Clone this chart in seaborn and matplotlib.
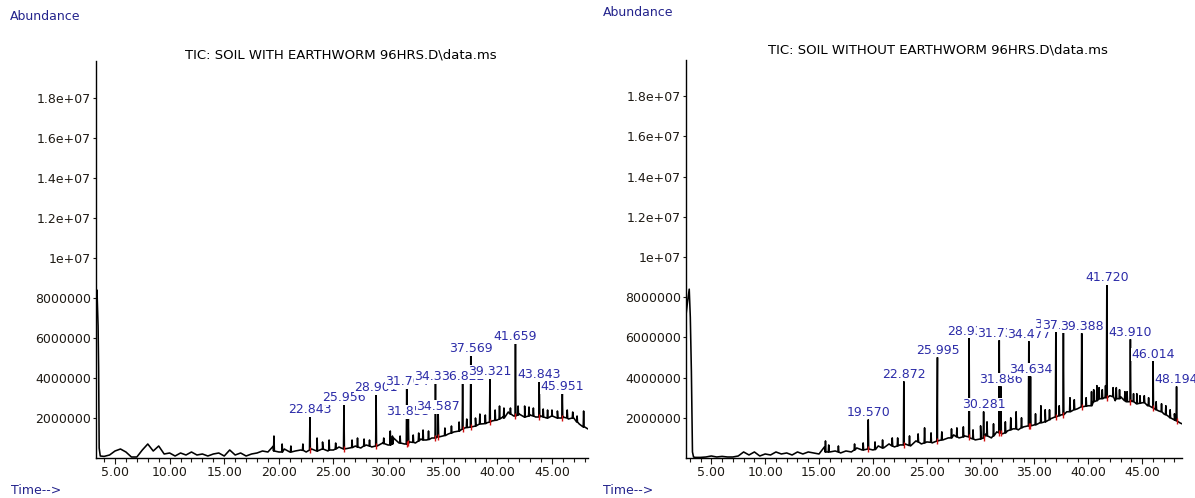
import matplotlib
matplotlib.use("Agg")
import matplotlib.pyplot as plt
import seaborn as sns
import pandas as pd
from matplotlib.ticker import FixedLocator, FixedFormatter, FormatStrFormatter, MultipleLocator

sns.set_style("white")
plt.rcParams["font.family"] = ["DejaVu Sans"]

# ---------------- data (abundance in units of 1e6) ----------------
titles = ["TIC: SOIL WITH EARTHWORM 96HRS.D\\data.ms",
          "TIC: SOIL WITHOUT EARTHWORM 96HRS.D\\data.ms"]

ytick_values = [2e6, 4e6, 6e6, 8e6, 1e7, 1.2e7, 1.4e7, 1.6e7, 1.8e7]
ytick_labels = ["2000000", "4000000", "6000000", "8000000", "1e+07",
                "1.2e+07", "1.4e+07", "1.6e+07", "1.8e+07"]
xtick_values = [5, 10, 15, 20, 25, 30, 35, 40, 45]

# baseline samples, soil WITH earthworm
base_t_L = [3.26, 3.35, 3.45, 3.5, 3.55, 3.65,
            4.0, 4.5, 5.0, 5.5, 6.0, 6.5, 7.0, 7.5, 8.0, 8.5, 9.0, 9.5, 10.0, 10.5,
            11.0, 11.5, 12.0, 12.5, 13.0, 13.5, 14.0, 14.5, 15.0, 15.5, 16.0, 16.5,
            17.0, 17.5, 18.0, 18.5, 19.0, 19.5, 20.0, 20.5, 21.0, 21.5, 22.0, 22.5,
            23.0, 23.5, 24.0, 24.5, 25.0, 25.5, 26.0, 26.5, 27.0, 27.5, 28.0, 28.5,
            29.0, 29.5, 30.0, 30.5, 31.0, 31.5, 32.0, 32.5, 33.0, 33.5, 34.0, 34.5,
            35.0, 35.5, 36.0, 36.5, 37.0, 37.5, 38.0, 38.5, 39.0, 39.5, 40.0, 40.5,
            41.0, 41.5, 42.0, 42.5, 43.0, 43.5, 44.0, 44.5, 45.0, 45.5, 46.0, 46.5,
            47.0, 47.5, 48.0, 48.3]
base_v_L = [7.4, 8.4, 6.6, 4.5, 0.5, 0.1,
            0.08, 0.15, 0.35, 0.45, 0.3, 0.05, 0.05, 0.4, 0.7, 0.35, 0.6, 0.2, 0.25, 0.1,
            0.25, 0.15, 0.3, 0.15, 0.2, 0.1, 0.2, 0.25, 0.1, 0.4, 0.15, 0.25,
            0.1, 0.2, 0.25, 0.35, 0.3, 0.6, 0.3, 0.45, 0.3, 0.35, 0.4, 0.3,
            0.45, 0.35, 0.5, 0.35, 0.4, 0.55, 0.45, 0.5, 0.6, 0.5, 0.65, 0.55,
            0.6, 0.75, 0.65, 1.0, 0.75, 0.7, 0.8, 0.75, 0.95, 0.9, 1.0, 1.05,
            1.1, 1.2, 1.3, 1.35, 1.5, 1.55, 1.6, 1.7, 1.75, 1.85, 1.9, 2.05,
            2.3, 2.1, 2.2, 2.05, 2.15, 2.05, 2.1, 2.0, 2.1, 2.0, 2.05, 1.95,
            2.0, 1.7, 1.55, 1.45]

# labelled peaks, soil WITH earthworm
peak_lab_L = ["22.843", "25.956", "28.901", "31.704", "31.853", "34.336", "34.587",
              "36.822", "37.569", "39.321", "41.659", "43.843", "45.951"]
peak_rt_L = [22.843, 25.956, 28.901, 31.704, 31.853, 34.336, 34.587,
             36.822, 37.569, 39.321, 41.659, 43.843, 45.951]
peak_top_L = [2.05, 2.65, 3.15, 3.45, 1.95, 3.7, 2.2, 3.7, 5.1, 3.95, 5.7, 3.8, 3.2]
peak_base_L = [0.4, 0.45, 0.6, 0.7, 0.75, 1.0, 1.05, 1.45, 1.55, 1.8, 2.1, 2.05, 2.0]

# small unlabelled peaks / noise spikes, soil WITH earthworm
minor_rt_L = [19.55, 20.3, 21.1, 22.2, 23.5, 24.0, 24.6, 25.2, 26.7, 27.2, 27.8,
              28.3, 29.6, 30.2, 30.4, 31.1, 32.3, 32.8, 33.2, 33.7, 35.2, 35.8,
              36.5, 37.2, 38.0, 38.4, 38.9, 39.8, 40.2, 40.6, 41.2, 41.9, 42.5,
              42.9, 43.3, 44.2, 44.6, 45.0, 45.5, 46.4, 46.9, 47.3, 47.9]
minor_top_L = [1.1, 0.7, 0.6, 0.7, 1.0, 0.8, 0.9, 0.75, 0.9, 1.0, 0.95,
               0.9, 1.0, 1.35, 1.1, 1.1, 1.15, 1.25, 1.4, 1.35, 1.5, 1.6,
               1.8, 1.95, 2.0, 2.2, 2.15, 2.4, 2.6, 2.5, 2.5, 2.6, 2.6,
               2.55, 2.5, 2.45, 2.4, 2.4, 2.35, 2.4, 2.3, 2.1, 2.35]
minor_base_L = [0.35, 0.3, 0.3, 0.38, 0.35, 0.45, 0.4, 0.45, 0.52, 0.55, 0.6,
                0.6, 0.72, 0.65, 0.7, 0.75, 0.78, 0.85, 0.9, 0.92, 1.12, 1.25,
                1.35, 1.52, 1.6, 1.7, 1.72, 1.88, 1.95, 2.0, 2.2, 2.15, 2.05,
                2.1, 2.1, 2.05, 2.0, 2.1, 2.0, 2.0, 2.0, 1.8, 1.55]

# baseline samples, soil WITHOUT earthworm
base_t_R = [2.67, 2.8, 2.95, 3.05, 3.15, 3.25, 3.35,
            3.5, 4.0, 4.5, 5.0, 5.5, 6.0, 6.5, 7.0, 7.5, 8.0, 8.5, 9.0, 9.5, 10.0,
            10.5, 11.0, 11.5, 12.0, 12.5, 13.0, 13.5, 14.0, 14.5, 15.0, 15.5, 16.0,
            16.5, 17.0, 17.5, 18.0, 18.5, 19.0, 19.5, 20.0, 20.5, 21.0, 21.5, 22.0,
            22.5, 23.0, 23.5, 24.0, 24.5, 25.0, 25.5, 26.0, 26.5, 27.0, 27.5, 28.0,
            28.5, 29.0, 29.5, 30.0, 30.5, 31.0, 31.5, 32.0, 32.5, 33.0, 33.5, 34.0,
            34.5, 35.0, 35.5, 36.0, 36.5, 37.0, 37.5, 38.0, 38.5, 39.0, 39.5, 40.0,
            40.5, 41.0, 41.5, 42.0, 42.5, 43.0, 43.5, 44.0, 44.5, 45.0, 45.5, 46.0,
            46.5, 47.0, 47.5, 48.0, 48.5, 48.7]
base_v_R = [7.2, 7.8, 8.4, 7.0, 4.3, 0.3, 0.05,
            0.03, 0.03, 0.05, 0.1, 0.05, 0.08, 0.05, 0.05, 0.1, 0.3, 0.15, 0.3, 0.1, 0.2,
            0.15, 0.3, 0.2, 0.25, 0.15, 0.3, 0.2, 0.3, 0.25, 0.2, 0.55, 0.3,
            0.35, 0.25, 0.35, 0.3, 0.5, 0.4, 0.45, 0.4, 0.6, 0.5, 0.7, 0.55,
            0.65, 0.7, 0.6, 0.85, 0.7, 0.8, 0.75, 0.85, 0.9, 1.0, 1.15, 1.0,
            1.1, 1.0, 0.9, 0.95, 1.2, 1.0, 1.3, 1.2, 1.35, 1.45, 1.4, 1.55,
            1.6, 1.65, 1.75, 1.8, 1.95, 2.05, 2.15, 2.3, 2.35, 2.45, 2.55, 2.6,
            2.85, 2.95, 3.0, 3.1, 2.85, 3.05, 2.8, 2.85, 2.7, 2.75, 2.6, 2.5,
            2.35, 2.2, 2.05, 1.9, 1.75, 1.7]

# labelled peaks, soil WITHOUT earthworm
peak_lab_R = ["19.570", "22.872", "25.995", "28.935", "30.281", "31.734", "31.886",
              "34.477", "34.634", "36.986", "37.689", "39.388", "41.720", "43.910",
              "46.014", "48.194"]
peak_rt_R = [19.570, 22.872, 25.995, 28.935, 30.281, 31.734, 31.886,
             34.477, 34.634, 36.986, 37.689, 39.388, 41.720, 43.910, 46.014, 48.194]
peak_top_R = [1.9, 3.8, 5.0, 5.95, 2.3, 5.85, 3.55, 5.8, 4.05, 6.3, 6.25, 6.2,
              8.6, 5.9, 4.8, 3.55]
peak_base_R = [0.45, 0.65, 0.85, 1.05, 1.0, 1.25, 1.25, 1.6, 1.6, 2.05, 2.15, 2.55,
               3.0, 2.8, 2.5, 1.85]

# small unlabelled peaks / noise spikes, soil WITHOUT earthworm
minor_rt_R = [15.6, 15.9, 16.8, 18.3, 19.1, 20.2, 20.9, 21.8, 22.3, 23.4, 24.2,
              24.8, 25.4, 26.4, 27.3, 27.8, 28.4, 29.3, 30.0, 30.6, 31.2, 32.3,
              32.8, 33.3, 33.8, 35.1, 35.6, 36.0, 36.4, 37.3, 38.3, 38.7, 39.8,
              40.3, 40.5, 40.8, 41.0, 41.3, 41.6, 42.3, 42.6, 42.9, 43.4, 43.6,
              44.2, 44.5, 44.8, 45.2, 45.6, 46.3, 46.8, 47.2, 47.6, 48.0]
minor_top_R = [0.85, 0.65, 0.6, 0.7, 0.75, 0.8, 0.9, 1.0, 1.0, 1.1, 1.2,
               1.5, 1.25, 1.3, 1.45, 1.5, 1.55, 1.4, 1.6, 1.8, 1.7, 1.8,
               2.0, 2.3, 2.0, 2.2, 2.6, 2.4, 2.4, 2.6, 3.0, 2.9, 3.0,
               3.3, 3.4, 3.6, 3.5, 3.4, 3.6, 3.5, 3.5, 3.4, 3.3, 3.3,
               3.2, 3.2, 3.1, 3.1, 3.0, 2.8, 2.7, 2.6, 2.4, 2.2]
minor_base_R = [0.3, 0.3, 0.3, 0.4, 0.4, 0.42, 0.5, 0.6, 0.6, 0.62, 0.8,
                0.75, 0.78, 0.9, 1.0, 1.05, 1.05, 0.95, 0.95, 1.1, 1.1, 1.25,
                1.4, 1.45, 1.5, 1.65, 1.75, 1.8, 1.9, 2.1, 2.3, 2.4, 2.58,
                2.6, 2.8, 2.85, 2.95, 2.95, 3.0, 3.05, 2.95, 2.95, 2.85, 2.8,
                2.8, 2.7, 2.72, 2.75, 2.6, 2.4, 2.3, 2.15, 2.0, 1.9]

# ---------------- styling ----------------
LABEL_BLUE = "#2c2ca8"
NAVY = "#23238c"
TICK_COL = "#1e1a14"
W, H = 1195, 498


def build_trace(bt, bv, prt, ptop, pbase, mrt, mtop, mbase):
    rows = list(zip(bt, bv))
    hw = 0.04
    for rt, top, b in list(zip(prt, ptop, pbase)) + list(zip(mrt, mtop, mbase)):
        rows += [(rt - hw, b), (rt, top), (rt + hw, b)]
    df = pd.DataFrame(rows, columns=["time", "abund"]).sort_values("time")
    df["abund"] = df["abund"] * 1e6
    return df


fig = plt.figure(figsize=(W / 100, H / 100), dpi=100)
axL = fig.add_axes([96 / W, 40 / H, 492 / W, 397 / H])
axR = fig.add_axes([686 / W, 40 / H, 496 / W, 398 / H])

panels = [
    (axL, (3.26, 48.3), 19.85e6, base_t_L, base_v_L, peak_lab_L, peak_rt_L, peak_top_L,
     peak_base_L, minor_rt_L, minor_top_L, minor_base_L),
    (axR, (2.65, 48.7), 19.8e6, base_t_R, base_v_R, peak_lab_R, peak_rt_R, peak_top_R,
     peak_base_R, minor_rt_R, minor_top_R, minor_base_R),
]

for (ax, xl, ytop, bt, bv, plab, prt, ptop, pbase, mrt, mtop, mbase) in panels:
    df = build_trace(bt, bv, prt, ptop, pbase, mrt, mtop, mbase)
    sns.lineplot(data=df, x="time", y="abund", ax=ax, color="black", lw=1.15,
                 estimator=None, sort=True)
    # red integration marks at peak bases
    sns.scatterplot(x=prt, y=[b * 1e6 for b in pbase], ax=ax, color="#d01010",
                    marker="|", s=14, linewidth=1.0, zorder=4)
    for lab, rt, top in zip(plab, prt, ptop):
        ax.annotate(lab, (rt, top * 1e6), xytext=(0, 0.5), textcoords="offset points",
                    ha="center", va="bottom", fontsize=9, color=LABEL_BLUE,
                    annotation_clip=False,
                    bbox=dict(facecolor="white", edgecolor="none", pad=0.2))
    ax.set_xlim(*xl)
    ax.set_ylim(0, ytop)
    ax.set_xlabel("")
    ax.set_ylabel("")
    for s in ["top", "right"]:
        ax.spines[s].set_visible(False)
    for s in ["left", "bottom"]:
        ax.spines[s].set_color("black")
        ax.spines[s].set_linewidth(1.0)
    ax.yaxis.set_major_locator(FixedLocator(ytick_values))
    ax.yaxis.set_major_formatter(FixedFormatter(ytick_labels))
    ax.xaxis.set_major_locator(FixedLocator(xtick_values))
    ax.xaxis.set_major_formatter(FormatStrFormatter("%.2f"))
    ax.xaxis.set_minor_locator(MultipleLocator(1))
    ax.tick_params(axis="y", which="major", direction="out", length=2.5, width=0.8,
                   labelsize=9, pad=1, colors=TICK_COL, left=True)
    ax.tick_params(axis="x", which="major", direction="out", length=4, width=0.8,
                   labelsize=9, pad=2, colors=TICK_COL, bottom=True)
    ax.tick_params(axis="x", which="minor", direction="out", length=3, width=0.8,
                   colors=TICK_COL, bottom=True)
    ax.set_facecolor("white")


def ftext(x, y, s, **kw):
    fig.text(x / W, 1 - y / H, s, **kw)


ftext(341, 55, titles[0], ha="center", va="center", fontsize=9.5, color="black")
ftext(938, 50, titles[1], ha="center", va="center", fontsize=9.5, color="black")
ftext(10, 16, "Abundance", ha="left", va="center", fontsize=9, color=NAVY)
ftext(603, 13, "Abundance", ha="left", va="center", fontsize=9, color=NAVY)
ftext(11, 490, "Time-->", ha="left", va="center", fontsize=9, color=NAVY)
ftext(603, 490, "Time-->", ha="left", va="center", fontsize=9, color=NAVY)

fig.savefig("out.png", dpi=100, facecolor="white")
